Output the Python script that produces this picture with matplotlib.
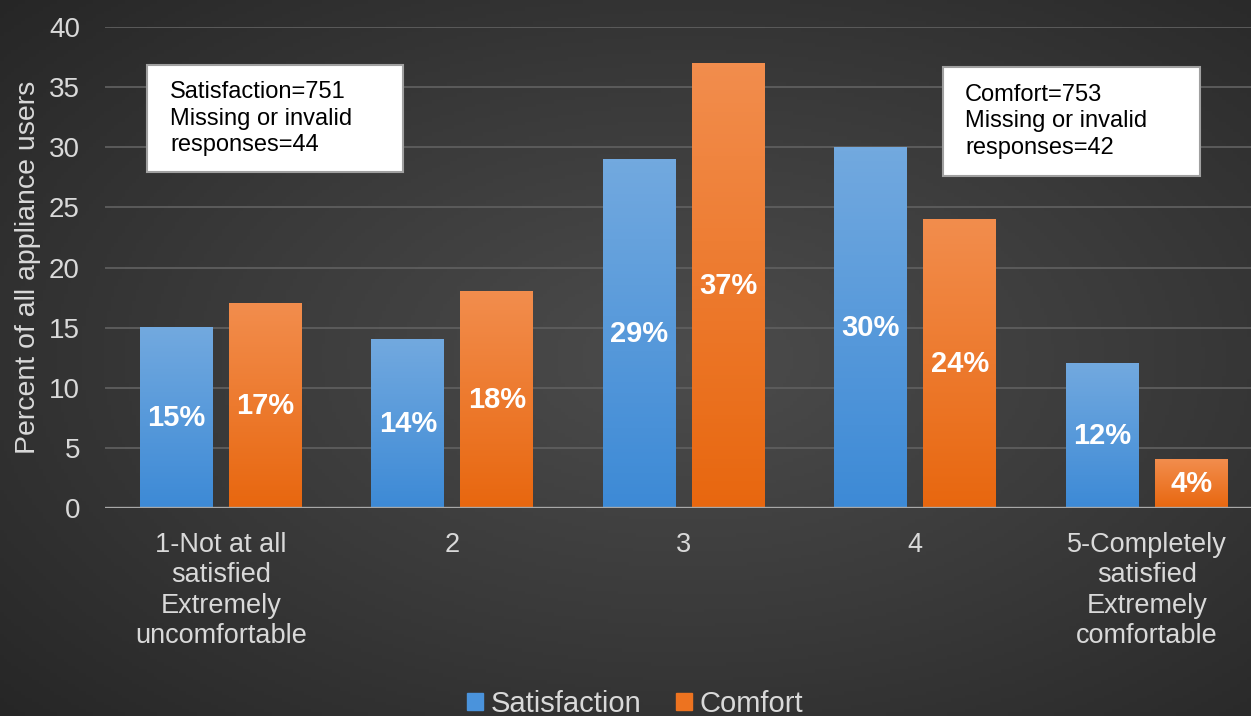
import numpy as np
import matplotlib.pyplot as plt
from matplotlib.colors import LinearSegmentedColormap
from matplotlib.patches import Patch, Rectangle

plt.rcParams['font.family'] = ['Liberation Sans', 'DejaVu Sans']

categories = ["1-Not at all\nsatisfied\nExtremely\nuncomfortable", "2", "3", "4",
              "5-Completely\nsatisfied\nExtremely\ncomfortable"]
satisfaction = [15, 14, 29, 30, 12]
comfort = [17, 18, 37, 24, 4]
box_left = "Satisfaction=751\nMissing or invalid\nresponses=44"
box_right = "Comfort=753\nMissing or invalid\nresponses=42"

W, H = 1251, 716
fig = plt.figure(figsize=(W / 100, H / 100), dpi=100)

# radial background
bg = fig.add_axes([0, 0, 1, 1], zorder=-10)
yy, xx = np.mgrid[0:1:200j, 0:1:350j]
r = np.sqrt(((xx - 0.55) / 0.75) ** 2 + ((yy - 0.5) / 0.75) ** 2)
bg_cmap = LinearSegmentedColormap.from_list("bg", ["#4c4c4c", "#3a3a3a", "#262626"])
bg.imshow(r, cmap=bg_cmap, aspect="auto", extent=[0, 1, 0, 1], vmin=0, vmax=1)
bg.axis("off")

ax = fig.add_axes([105 / W, 1 - 508 / H, 1 - 105 / W, (508 - 27) / H])
ax.patch.set_alpha(0)
x = np.arange(len(categories))
w = 0.315
off = 0.192

blue_cmap = LinearSegmentedColormap.from_list("b", ["#3d8ad6", "#72a9df"])
orange_cmap = LinearSegmentedColormap.from_list("o", ["#e8670f", "#f28d4d"])

b1 = ax.bar(x - off, satisfaction, w, color="none", zorder=3)
b2 = ax.bar(x + off, comfort, w, color="none", zorder=3)
grad = np.linspace(0, 1, 100).reshape(-1, 1)
for bars, cm in [(b1, blue_cmap), (b2, orange_cmap)]:
    for b in bars:
        x0, h = b.get_x(), b.get_height()
        ax.imshow(grad, cmap=cm, aspect="auto", origin="lower",
                  extent=[x0, x0 + b.get_width(), 0, h], zorder=3)
    for b in bars:
        ax.text(b.get_x() + b.get_width() / 2, b.get_height() / 2,
                f"{b.get_height():.0f}%", ha="center", va="center",
                color="white", fontsize=21, fontweight="bold", zorder=5)

ax.set_xlim(-0.5, 4.45)
ax.set_ylim(0, 40)
ax.set_yticks(range(0, 41, 5))
ax.yaxis.grid(True, color="#5e5e5e", linewidth=1.3)
ax.set_axisbelow(True)
ax.axhline(0, color="#a8a8a8", linewidth=2.4, zorder=4)
for s in ax.spines.values():
    s.set_visible(False)
ax.tick_params(length=0, colors="#d9d9d9", labelsize=20)
ax.tick_params(axis="y", pad=18)
ax.tick_params(axis="x", pad=17, labelsize=19.5)
ax.set_xticks(x)
ax.set_xticklabels(categories, linespacing=1.23)
ax.set_ylabel("Percent of all appliance users", color="#d9d9d9", fontsize=20.5, labelpad=6)

# annotation boxes (figure pixel coordinates from the top-left)
for (bx0, by0, bx1, by1, tx), txt in [((147, 65, 403, 172, 170), box_left),
                                       ((943, 67, 1200, 176, 965), box_right)]:
    fig.patches.append(Rectangle((bx0 / W, 1 - by1 / H), (bx1 - bx0) / W, (by1 - by0) / H,
                                 transform=fig.transFigure, fc="white", ec="#a0a0a0",
                                 lw=1.5, zorder=6))
    fig.text(tx / W, 1 - (by0 + by1) / 2 / H, txt, fontsize=17, va="center", ha="left",
             color="black", linespacing=1.25, zorder=7)

handles = [Patch(color="#4a93dc"), Patch(color="#ed7320")]
leg = fig.legend(handles, ["Satisfaction", "Comfort"], loc="center",
                 bbox_to_anchor=(635 / W, 1 - 704 / H), ncol=2, frameon=False,
                 fontsize=21, handlelength=0.55, handleheight=0.55,
                 handletextpad=0.25, columnspacing=1.2, borderpad=0)
for t in leg.get_texts():
    t.set_color("#d9d9d9")

fig.savefig("out.png", dpi=100)
